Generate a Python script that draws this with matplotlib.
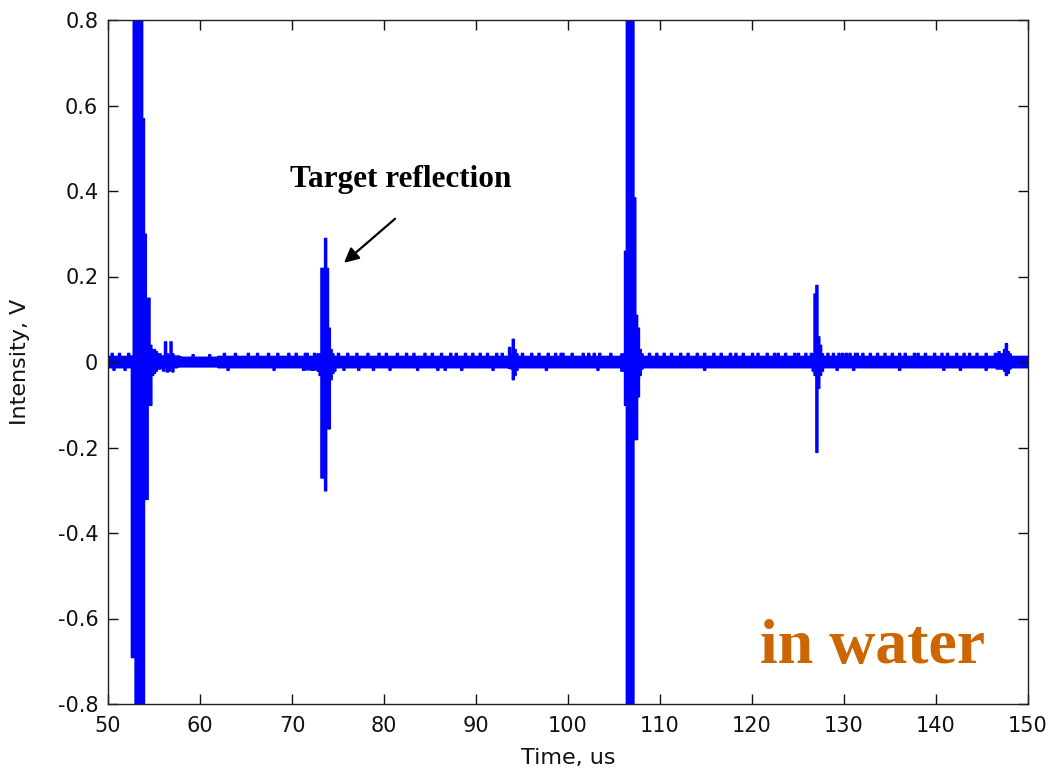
import numpy as np
import matplotlib
matplotlib.use("Agg")
import matplotlib.pyplot as plt

# Receiver trace envelope: per 0.2 us bin starting at 50 us, max and min in mV
t_start_us = 50.0
dt_us = 0.2
upper_mv = [
    14, 14, 21, 14, 14, 14, 21, 14, 14, 14, 14, 21, 14, 15, 900, 900, 900, 900, 900, 570,
    300, 150, 150, 40, 30, 30, 25, 20, 20, 15, 15, 48, 20, 15, 48, 20, 15, 15, 15, 13,
    12, 12, 12, 12, 12, 12, 18, 12, 12, 12, 12, 12, 12, 12, 12, 18, 12, 12, 12, 12,
    14, 14, 14, 21, 14, 14, 14, 14, 14, 21, 14, 14, 14, 14, 14, 14, 21, 14, 14, 14,
    14, 21, 14, 14, 14, 14, 14, 21, 14, 14, 14, 14, 21, 14, 14, 14, 14, 14, 21, 14,
    14, 14, 21, 14, 14, 14, 14, 21, 21, 14, 14, 14, 21, 14, 20, 20, 220, 220, 290, 220,
    80, 30, 20, 14, 14, 21, 14, 14, 14, 14, 21, 14, 14, 14, 14, 21, 14, 14, 14, 14,
    14, 21, 14, 14, 14, 14, 14, 21, 14, 14, 14, 21, 14, 14, 14, 14, 14, 21, 14, 14,
    14, 14, 21, 14, 14, 14, 21, 14, 14, 14, 14, 14, 21, 14, 14, 14, 21, 14, 14, 14,
    14, 21, 14, 14, 14, 14, 21, 14, 14, 21, 14, 14, 14, 14, 21, 14, 14, 14, 21, 14,
    14, 14, 21, 14, 14, 14, 21, 14, 14, 14, 14, 21, 14, 14, 21, 14, 14, 14, 35, 20,
    54, 30, 20, 14, 14, 21, 14, 14, 14, 14, 21, 14, 14, 14, 21, 14, 14, 14, 14, 21,
    14, 14, 14, 21, 14, 14, 21, 21, 14, 14, 14, 14, 21, 14, 14, 14, 14, 14, 21, 14,
    14, 21, 14, 14, 21, 14, 14, 21, 14, 14, 14, 14, 14, 21, 14, 14, 14, 14, 14, 20,
    20, 260, 900, 900, 900, 900, 385, 110, 80, 30, 20, 14, 14, 14, 21, 14, 14, 14, 21, 14,
    14, 14, 21, 14, 14, 14, 21, 14, 14, 14, 14, 21, 14, 14, 14, 21, 14, 14, 14, 14,
    21, 14, 14, 14, 21, 14, 14, 14, 14, 21, 14, 14, 14, 21, 14, 14, 14, 14, 21, 14,
    14, 21, 14, 14, 14, 21, 14, 14, 14, 14, 21, 14, 14, 21, 14, 14, 14, 14, 21, 14,
    14, 14, 21, 14, 21, 14, 14, 14, 21, 14, 14, 14, 14, 21, 14, 21, 14, 14, 14, 21,
    14, 14, 21, 20, 160, 180, 60, 40, 20, 14, 14, 21, 14, 14, 21, 14, 14, 21, 14, 21,
    14, 21, 14, 21, 14, 14, 21, 21, 14, 14, 21, 14, 14, 14, 21, 14, 14, 14, 21, 14,
    14, 14, 21, 14, 14, 14, 21, 14, 14, 14, 21, 14, 14, 21, 14, 14, 14, 14, 21, 14,
    21, 14, 14, 14, 21, 14, 14, 14, 14, 21, 14, 14, 14, 21, 14, 14, 21, 14, 14, 14,
    14, 21, 14, 14, 14, 21, 14, 14, 21, 14, 14, 14, 21, 14, 14, 14, 14, 21, 14, 14,
    14, 14, 21, 20, 25, 20, 20, 30, 44, 25, 20, 14, 14, 14, 14, 14, 14, 14, 14, 14,
    14,
]
lower_mv = [
    -12, -12, -12, -18, -12, -12, -12, -12, -12, -18, -12, -12, -12, -690, -690, -900, -900, -900, -900, -900,
    -320, -320, -100, -100, -30, -25, -20, -15, -15, -12, -20, -12, -22, -20, -12, -22, -12, -12, -10, -10,
    -10, -10, -10, -10, -10, -10, -10, -10, -10, -10, -10, -10, -10, -10, -10, -10, -10, -10, -10, -10,
    -12, -12, -12, -12, -12, -18, -12, -12, -12, -12, -12, -12, -12, -12, -12, -12, -12, -12, -12, -12,
    -12, -12, -12, -12, -12, -12, -12, -12, -12, -12, -18, -12, -12, -12, -12, -12, -12, -12, -12, -12,
    -12, -12, -12, -12, -12, -12, -18, -17, -17, -17, -17, -18, -17, -17, -20, -30, -270, -270, -300, -155,
    -155, -40, -25, -20, -12, -12, -12, -12, -18, -12, -12, -12, -12, -12, -12, -12, -18, -12, -12, -12,
    -12, -12, -12, -12, -18, -12, -12, -12, -12, -12, -12, -12, -12, -18, -12, -12, -12, -12, -12, -12,
    -12, -12, -12, -12, -12, -12, -12, -12, -18, -12, -12, -12, -12, -12, -12, -12, -12, -12, -12, -18,
    -12, -12, -12, -18, -12, -12, -12, -12, -12, -12, -12, -12, -18, -12, -12, -12, -12, -12, -12, -12,
    -12, -12, -12, -12, -12, -12, -12, -12, -12, -18, -12, -12, -12, -12, -12, -12, -12, -12, -13, -15,
    -40, -30, -18, -12, -12, -12, -12, -12, -12, -12, -12, -12, -12, -12, -12, -12, -12, -12, -18, -12,
    -12, -12, -12, -12, -12, -12, -12, -12, -12, -12, -12, -12, -12, -12, -12, -12, -12, -12, -12, -12,
    -12, -12, -12, -12, -12, -12, -18, -12, -12, -12, -12, -12, -12, -12, -12, -12, -12, -12, -12, -20,
    -20, -100, -900, -900, -900, -900, -180, -180, -80, -30, -15, -12, -12, -12, -12, -12, -12, -12, -12, -12,
    -12, -12, -12, -12, -12, -12, -12, -12, -12, -12, -12, -12, -12, -12, -12, -12, -12, -12, -12, -12,
    -12, -12, -12, -12, -18, -12, -12, -12, -12, -12, -12, -12, -12, -12, -12, -12, -12, -12, -12, -12,
    -12, -12, -12, -12, -12, -12, -12, -12, -12, -12, -12, -12, -12, -12, -12, -12, -12, -12, -12, -12,
    -12, -12, -12, -12, -12, -12, -12, -12, -12, -12, -12, -12, -12, -12, -12, -12, -12, -12, -12, -12,
    -12, -12, -12, -20, -30, -210, -60, -30, -20, -12, -12, -12, -12, -12, -12, -12, -18, -12, -12, -12,
    -12, -12, -12, -12, -12, -18, -12, -12, -12, -12, -12, -12, -12, -12, -12, -12, -12, -12, -12, -12,
    -12, -12, -12, -12, -12, -12, -12, -12, -12, -12, -18, -12, -12, -12, -12, -12, -12, -12, -12, -12,
    -12, -12, -12, -12, -12, -12, -12, -12, -12, -12, -12, -12, -12, -12, -18, -12, -12, -12, -12, -12,
    -12, -12, -12, -18, -12, -12, -12, -12, -12, -12, -12, -12, -12, -12, -12, -12, -12, -18, -12, -12,
    -12, -12, -12, -15, -15, -15, -15, -20, -30, -25, -15, -12, -12, -12, -12, -12, -12, -12, -12, -12,
    -12,
]

x_ticks = [50, 60, 70, 80, 90, 100, 110, 120, 130, 140, 150]
y_ticks = [-0.8, -0.6, -0.4, -0.2, 0, 0.2, 0.4, 0.6, 0.8]
y_tick_labels = ["-0.8", "-0.6", "-0.4", "-0.2", "0", "0.2", "0.4", "0.6", "0.8"]

n = min(len(upper_mv), len(lower_mv))
time_us = t_start_us + dt_us * np.arange(n)
v_hi = np.asarray(upper_mv[:n], dtype=float) / 1000.0
v_lo = np.asarray(lower_mv[:n], dtype=float) / 1000.0

plt.rcParams["axes.unicode_minus"] = False
plt.rcParams["font.family"] = ["DejaVu Sans"]

fig = plt.figure(figsize=(10.52, 7.77), dpi=100)
ax = fig.add_axes([108 / 1052, 73 / 777, 920 / 1052, 684 / 777])

ax.fill_between(time_us, v_lo, v_hi, step="mid", color="#0000ff",
                linewidth=1.2, edgecolor="#0000ff")

ax.set_xlim(50, 150)
ax.set_ylim(-0.8, 0.8)
ax.set_xticks(x_ticks)
ax.set_xticklabels([str(v) for v in x_ticks])
ax.set_yticks(y_ticks)
ax.set_yticklabels(y_tick_labels)
ax.tick_params(direction="in", length=7.2, width=1, top=True, right=True,
               labelsize=15, colors="#111111")
ax.tick_params(axis="x", pad=9)
ax.tick_params(axis="y", pad=7)
for s in ax.spines.values():
    s.set_linewidth(1.0)
    s.set_color("#222222")

ax.set_xlabel("Time, us", fontsize=16, labelpad=8, color="#111111")
ax.set_ylabel("Intensity, V", fontsize=16, labelpad=20, color="#111111")

# Annotation of the echo from the target
ax.text(81.85, 0.41, "Target reflection", ha="center", va="baseline",
        fontsize=22.5, fontweight="bold", family=["Liberation Serif", "DejaVu Serif"])
ax.annotate("", xy=(75.65, 0.232), xytext=(81.2, 0.335),
            arrowprops=dict(arrowstyle="-|>", color="black", lw=1.6,
                            mutation_scale=22, shrinkA=0, shrinkB=0))

ax.text(0.7087, 0.06, "in water", transform=ax.transAxes, ha="left", va="baseline",
        fontsize=46, fontweight="bold", color="#cc6600",
        family=["Liberation Serif", "DejaVu Serif"])

fig.savefig("out.png", dpi=100)
